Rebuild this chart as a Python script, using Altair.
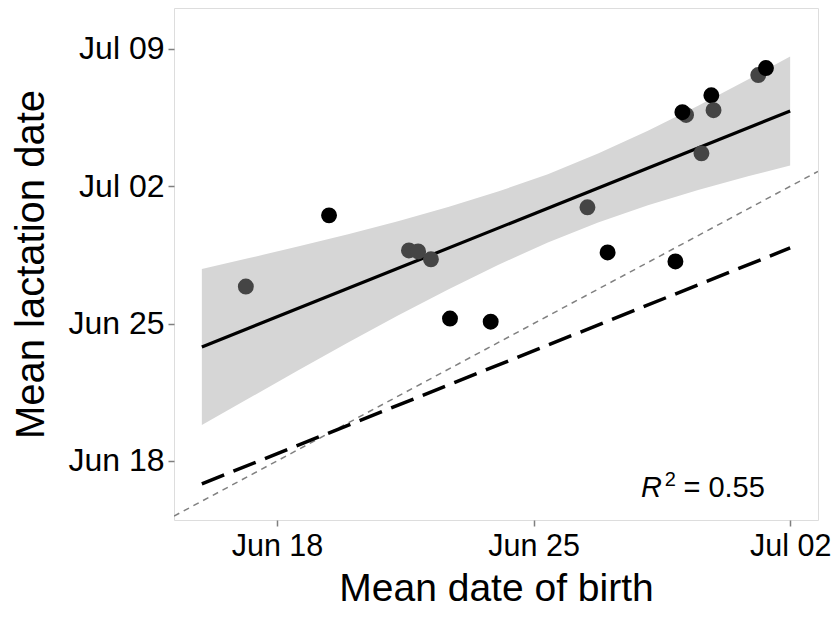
import altair as alt
import pandas as pd

# Day numbers: Jun d -> d, Jul d -> 30 + d
birth = [17.15, 19.42, 21.60, 21.85, 22.20, 22.72, 23.83, 26.47, 27.02, 28.87,
         29.16, 29.06, 29.58, 29.85, 29.91, 31.13, 31.34]
lact = [26.89, 30.52, 28.73, 28.68, 28.28, 25.26, 25.10, 30.93, 28.63, 28.17,
        35.64, 35.78, 33.68, 36.64, 35.88, 37.67, 38.03]
group = ["g", "b", "g", "g", "g", "b", "b", "g", "b", "b",
         "g", "b", "g", "b", "g", "g", "b"]

fit_x = [15.95, 32.00]
fit_y = [23.81, 35.84]
offset_y = [16.83, 28.86]
identity = [15.19, 32.76]

band_x = [15.95, 17.21, 18.57, 19.94, 21.30, 22.67, 24.03, 25.39, 26.76, 28.12, 29.49, 30.85, 32.00]
band_lo = [19.83, 21.17, 22.61, 24.04, 25.42, 26.74, 27.99, 29.14, 30.15, 31.03, 31.81, 32.51, 33.06]
band_hi = [27.79, 28.33, 28.93, 29.56, 30.22, 30.94, 31.73, 32.62, 33.67, 34.83, 36.11, 37.45, 38.62]

x_ticks = [18, 25, 32]
y_ticks = [18, 25, 32, 39]
x_dom = [15.19, 32.76]
y_dom = [14.99, 41.09]

FONT = "Liberation Sans"
label_expr = ("datum.value <= 30 ? 'Jun ' + (datum.value < 10 ? '0' : '') + datum.value"
              " : 'Jul ' + (datum.value - 30 < 10 ? '0' : '') + (datum.value - 30)")

xs = alt.Scale(domain=x_dom, nice=False, zero=False)
ys = alt.Scale(domain=y_dom, nice=False, zero=False)

x_axis = alt.Axis(values=x_ticks, labelExpr=label_expr, title="Mean date of birth",
                  grid=False, domain=False, tickColor="#7f7f7f", tickWidth=1.5, tickSize=6,
                  labelFont=FONT, labelFontSize=30.5, labelColor="black", labelPadding=5,
                  titleFont=FONT, titleFontSize=39, titleFontWeight="normal",
                  titleColor="black", titlePadding=8)
y_axis = alt.Axis(values=y_ticks, labelExpr=label_expr, title="Mean lactation date",
                  grid=False, domain=False, tickColor="#7f7f7f", tickWidth=1.5, tickSize=6,
                  labelFont=FONT, labelFontSize=32, labelColor="black", labelPadding=4,
                  titleFont=FONT, titleFontSize=40, titleFontWeight="normal",
                  titleColor="black", titlePadding=16)

band_df = pd.DataFrame({"x": band_x, "lo": band_lo, "hi": band_hi})
band = alt.Chart(band_df).mark_area(color="#d6d6d6", opacity=1).encode(
    x=alt.X("x:Q", scale=xs, axis=x_axis),
    y=alt.Y("lo:Q", scale=ys, axis=y_axis),
    y2="hi:Q",
)

ident_df = pd.DataFrame({"x": identity, "y": identity})
ident = alt.Chart(ident_df).mark_line(color="#808080", strokeWidth=1.5,
                                      strokeDash=[6, 5], clip=True).encode(
    x=alt.X("x:Q", scale=xs), y=alt.Y("y:Q", scale=ys))

off_df = pd.DataFrame({"x": fit_x, "y": offset_y})
off = alt.Chart(off_df).mark_line(color="black", strokeWidth=3.5,
                                  strokeDash=[24, 10]).encode(
    x=alt.X("x:Q", scale=xs), y=alt.Y("y:Q", scale=ys))

fit_df = pd.DataFrame({"x": fit_x, "y": fit_y})
fit = alt.Chart(fit_df).mark_line(color="black", strokeWidth=3.2).encode(
    x=alt.X("x:Q", scale=xs), y=alt.Y("y:Q", scale=ys))

pts_df = pd.DataFrame({"x": birth, "y": lact, "g": group})
pts = alt.Chart(pts_df).mark_circle(size=254, opacity=1).encode(
    x=alt.X("x:Q", scale=xs), y=alt.Y("y:Q", scale=ys),
    color=alt.Color("g:N", scale=alt.Scale(domain=["b", "g"], range=["#000000", "#454545"]),
                    legend=None),
)

ann_df = pd.DataFrame({"x": [31.31], "y": [16.16]})
t_eq = alt.Chart(ann_df).mark_text(text="= 0.55", font=FONT, fontSize=29, align="right",
                                   baseline="alphabetic", color="black").encode(
    x=alt.X("x:Q", scale=xs), y=alt.Y("y:Q", scale=ys))
t_sup = alt.Chart(ann_df).mark_text(text="2", font=FONT, fontSize=20, align="right",
                                    baseline="alphabetic", dx=-89, dy=-11, color="black").encode(
    x=alt.X("x:Q", scale=xs), y=alt.Y("y:Q", scale=ys))
t_r = alt.Chart(ann_df).mark_text(text="R", font=FONT, fontSize=29, fontStyle="italic",
                                  align="right", baseline="alphabetic", dx=-103,
                                  color="black").encode(
    x=alt.X("x:Q", scale=xs), y=alt.Y("y:Q", scale=ys))

chart = alt.layer(band, ident, off, fit, pts, t_eq, t_sup, t_r).properties(
    width=644, height=512,
    autosize=alt.AutoSizeParams(type="none"),
    padding={"left": 166, "top": 0, "right": 13, "bottom": 91},
).configure_view(stroke="#7f7f7f", strokeWidth=1.5).configure(background="white")

chart.save("out.html", embed_options={"renderer": "svg", "actions": False})
